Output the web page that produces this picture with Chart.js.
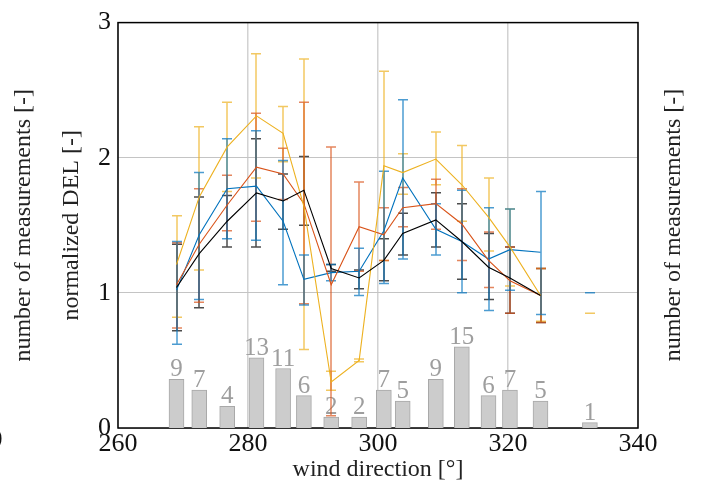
<!DOCTYPE html>
<html><head><meta charset="utf-8">
<script src="https://cdn.jsdelivr.net/npm/chart.js@4.4.1/dist/chart.umd.min.js"></script>
<style>html,body{margin:0;padding:0;background:#fff;overflow:hidden}</style>
</head><body>
<canvas id="c" width="703" height="492"></canvas>
<script>
// ---- data ----
const directions = [269, 272.5, 276.8, 281.3, 285.4, 288.6, 292.8, 297.1, 300.9, 303.8, 308.9, 312.9, 317.0, 320.3, 325.0, 332.6];
const counts     = [9, 7, 4, 13, 11, 6, 2, 2, 7, 5, 9, 15, 6, 7, 5, 1];

const blueMean  = [1.02, 1.43, 1.77, 1.79, 1.53, 1.10, 1.15, 1.16, 1.46, 1.85, 1.47, 1.38, 1.25, 1.32, 1.30, 1.00];
const blueLow   = [0.62, 0.95, 1.40, 1.39, 1.06, 0.91, 1.09, 0.98, 1.07, 1.25, 1.28, 1.00, 0.87, 1.02, 0.84, 1.00];
const blueHigh  = [1.38, 1.89, 2.14, 2.20, 1.98, 1.28, 1.21, 1.33, 1.90, 2.43, 1.66, 1.76, 1.63, 1.62, 1.75, 1.00];

const redMean   = [1.06, 1.36, 1.65, 1.93, 1.88, 1.66, 1.06, 1.49, 1.43, 1.63, 1.66, 1.51, 1.24, 1.09, 0.98, null];
const redLow    = [0.74, 0.93, 1.46, 1.53, 1.69, 0.92, 0.09, 1.16, 1.24, 1.49, 1.47, 1.24, 1.04, 0.85, 0.78, null];
const redHigh   = [1.37, 1.77, 1.87, 2.33, 2.07, 2.41, 2.08, 1.82, 1.63, 1.78, 1.84, 1.77, 1.45, 1.34, 1.18, null];

const yellowMean = [1.21, 1.71, 2.08, 2.31, 2.18, 1.64, 0.34, 0.50, 1.94, 1.89, 1.99, 1.80, 1.56, 1.34, 0.98, 0.85];
const yellowLow  = [0.82, 1.17, 1.75, 1.85, 1.97, 0.58, 0.28, 0.49, 1.24, 1.73, 1.80, 1.53, 1.31, 1.05, 0.79, 0.85];
const yellowHigh = [1.57, 2.23, 2.41, 2.77, 2.38, 2.73, 0.42, 0.51, 2.64, 2.03, 2.19, 2.09, 1.85, 1.62, 1.18, 0.85];

const blackMean = [1.04, 1.29, 1.53, 1.74, 1.68, 1.76, 1.18, 1.11, 1.24, 1.44, 1.54, 1.38, 1.19, 1.11, 0.98, null];
const blackLow  = [0.72, 0.89, 1.34, 1.34, 1.47, 1.50, 1.16, 1.03, 1.09, 1.28, 1.34, 1.10, 0.95, 0.85, 0.78, null];
const blackHigh = [1.36, 1.71, 1.72, 2.14, 1.88, 2.01, 1.21, 1.17, 1.40, 1.59, 1.74, 1.66, 1.44, 1.34, 1.18, null];

const xTicks = [260, 280, 300, 320, 340];
const yTicks = [0, 1, 2, 3];
const xTitle = 'wind direction [°]';
const yTitle = 'normalized DEL [-]';
const countTitle = 'number of measurements [-]';

// ---- styling ----
const FONT = "'Liberation Serif', 'Times New Roman', serif";
const series = [
  {mean: blackMean,  low: blackLow,  high: blackHigh,  color: '#000000', eb: 'rgba(0,0,0,0.7)'},
  {mean: yellowMean, low: yellowLow, high: yellowHigh, color: '#EDB120', eb: 'rgba(237,177,32,0.7)'},
  {mean: redMean,    low: redLow,    high: redHigh,    color: '#D95319', eb: 'rgba(217,83,25,0.7)'},
  {mean: blueMean,   low: blueLow,   high: blueHigh,   color: '#0072BD', eb: 'rgba(0,114,189,0.7)'}
];
const lineCount = 15; // lines connect the first 15 bins; the last bin is shown only as error caps

const lineDatasets = series.map((s, k) => ({
  type: 'line',
  data: directions.slice(0, lineCount).map((d, i) => ({x: d, y: s.mean[i]})),
  borderColor: s.color,
  borderWidth: 1.1,
  pointRadius: 0,
  tension: 0,
  fill: false,
  yAxisID: 'y',
  order: k
}));

const barDataset = {
  type: 'bar',
  data: directions.map((d, i) => ({x: d, y: counts[i]})),
  backgroundColor: '#cccccc',
  borderColor: '#a8a8a8',
  borderWidth: 1,
  barThickness: 15,
  yAxisID: 'yc',
  order: 10
};

const overlay = {
  id: 'overlay',
  beforeDatasetsDraw(chart) {
    const {ctx, chartArea: a} = chart;
    ctx.save();
    ctx.strokeStyle = '#000';
    ctx.lineWidth = 1.5;
    ctx.strokeRect(a.left, a.top, a.right - a.left, a.bottom - a.top);
    ctx.restore();
  },
  afterDatasetDraw(chart, args) {
    if (args.meta.type !== 'bar') return;
    const {ctx} = chart;
    const xs = chart.scales.x, ys = chart.scales.y, yc = chart.scales.yc;
    ctx.save();
    // count labels
    ctx.fillStyle = '#9e9e9e';
    ctx.font = '25px ' + FONT;
    ctx.textAlign = 'center';
    ctx.textBaseline = 'alphabetic';
    directions.forEach((d, i) => {
      ctx.fillText(String(counts[i]), xs.getPixelForValue(d), yc.getPixelForValue(counts[i]) - 3);
    });
    // error bars
    ctx.lineWidth = 1.5;
    series.forEach(s => {
      ctx.strokeStyle = s.eb;
      directions.forEach((d, i) => {
        if (s.mean[i] == null) return;
        const px = Math.round(xs.getPixelForValue(d));
        const pl = ys.getPixelForValue(s.low[i]);
        const ph = ys.getPixelForValue(s.high[i]);
        ctx.beginPath();
        ctx.moveTo(px, pl); ctx.lineTo(px, ph);
        ctx.moveTo(px - 5, pl); ctx.lineTo(px + 5, pl);
        ctx.moveTo(px - 5, ph); ctx.lineTo(px + 5, ph);
        ctx.stroke();
      });
    });
    ctx.restore();
  },
  afterDraw(chart) {
    const {ctx, chartArea: a} = chart;
    ctx.save();
    ctx.fillStyle = '#222';
    ctx.font = '24px ' + FONT;
    ctx.textAlign = 'center';
    ctx.textBaseline = 'middle';
    ctx.translate(674, 225);
    ctx.rotate(-Math.PI / 2);
    ctx.fillText(countTitle, 0, 0);
    ctx.restore();
    ctx.save();
    ctx.fillStyle = '#111';
    ctx.font = '26px ' + FONT;
    ctx.textAlign = 'center';
    ctx.textBaseline = 'middle';
    ctx.fillText('0', -4, 440);
    ctx.restore();
  }
};

new Chart(document.getElementById('c'), {
  type: 'bar',
  data: {datasets: [barDataset, ...lineDatasets]},
  options: {
    responsive: false,
    animation: false,
    layout: {padding: {top: 18, left: 0, right: 0, bottom: 0}},
    plugins: {legend: {display: false}, tooltip: {enabled: false}},
    scales: {
      x: {
        type: 'linear', min: 260, max: 340, offset: false,
        afterBuildTicks: s => { s.ticks = xTicks.map(v => ({value: v})); },
        afterFit: s => { s.height = 64; },
        grid: {color: '#d2d2d2', lineWidth: 1.5, drawTicks: false, offset: false},
        border: {display: false},
        ticks: {color: '#111', font: {family: FONT, size: 26}, padding: 1, maxRotation: 0},
        title: {display: true, text: xTitle, color: '#222', font: {family: FONT, size: 24}, padding: {top: 0, bottom: 8}}
      },
      y: {
        type: 'linear', position: 'left', min: 0, max: 3, weight: 0,
        afterBuildTicks: s => { s.ticks = yTicks.map(v => ({value: v})); },
        afterFit: s => { s.width = 73; },
        grid: {color: '#c4c4c4', lineWidth: 1, drawTicks: false},
        border: {display: false},
        ticks: {color: '#111', font: {family: FONT, size: 26}, padding: 7},
        title: {display: true, text: yTitle, color: '#222', font: {family: FONT, size: 24}, padding: {top: 12, bottom: 0}}
      },
      yl: {
        type: 'linear', position: 'left', min: 0, max: 75, weight: 10,
        afterFit: s => { s.width = 45; },
        grid: {display: false}, border: {display: false},
        ticks: {display: false},
        title: {display: true, text: countTitle, color: '#222', font: {family: FONT, size: 24}, padding: {top: 9, bottom: 0}}
      },
      yc: {
        type: 'linear', position: 'right', min: 0, max: 75,
        afterFit: s => { s.width = 65; },
        grid: {display: false}, border: {display: false},
        ticks: {display: false}
      }
    }
  },
  plugins: [overlay]
});
</script>
</body></html>
